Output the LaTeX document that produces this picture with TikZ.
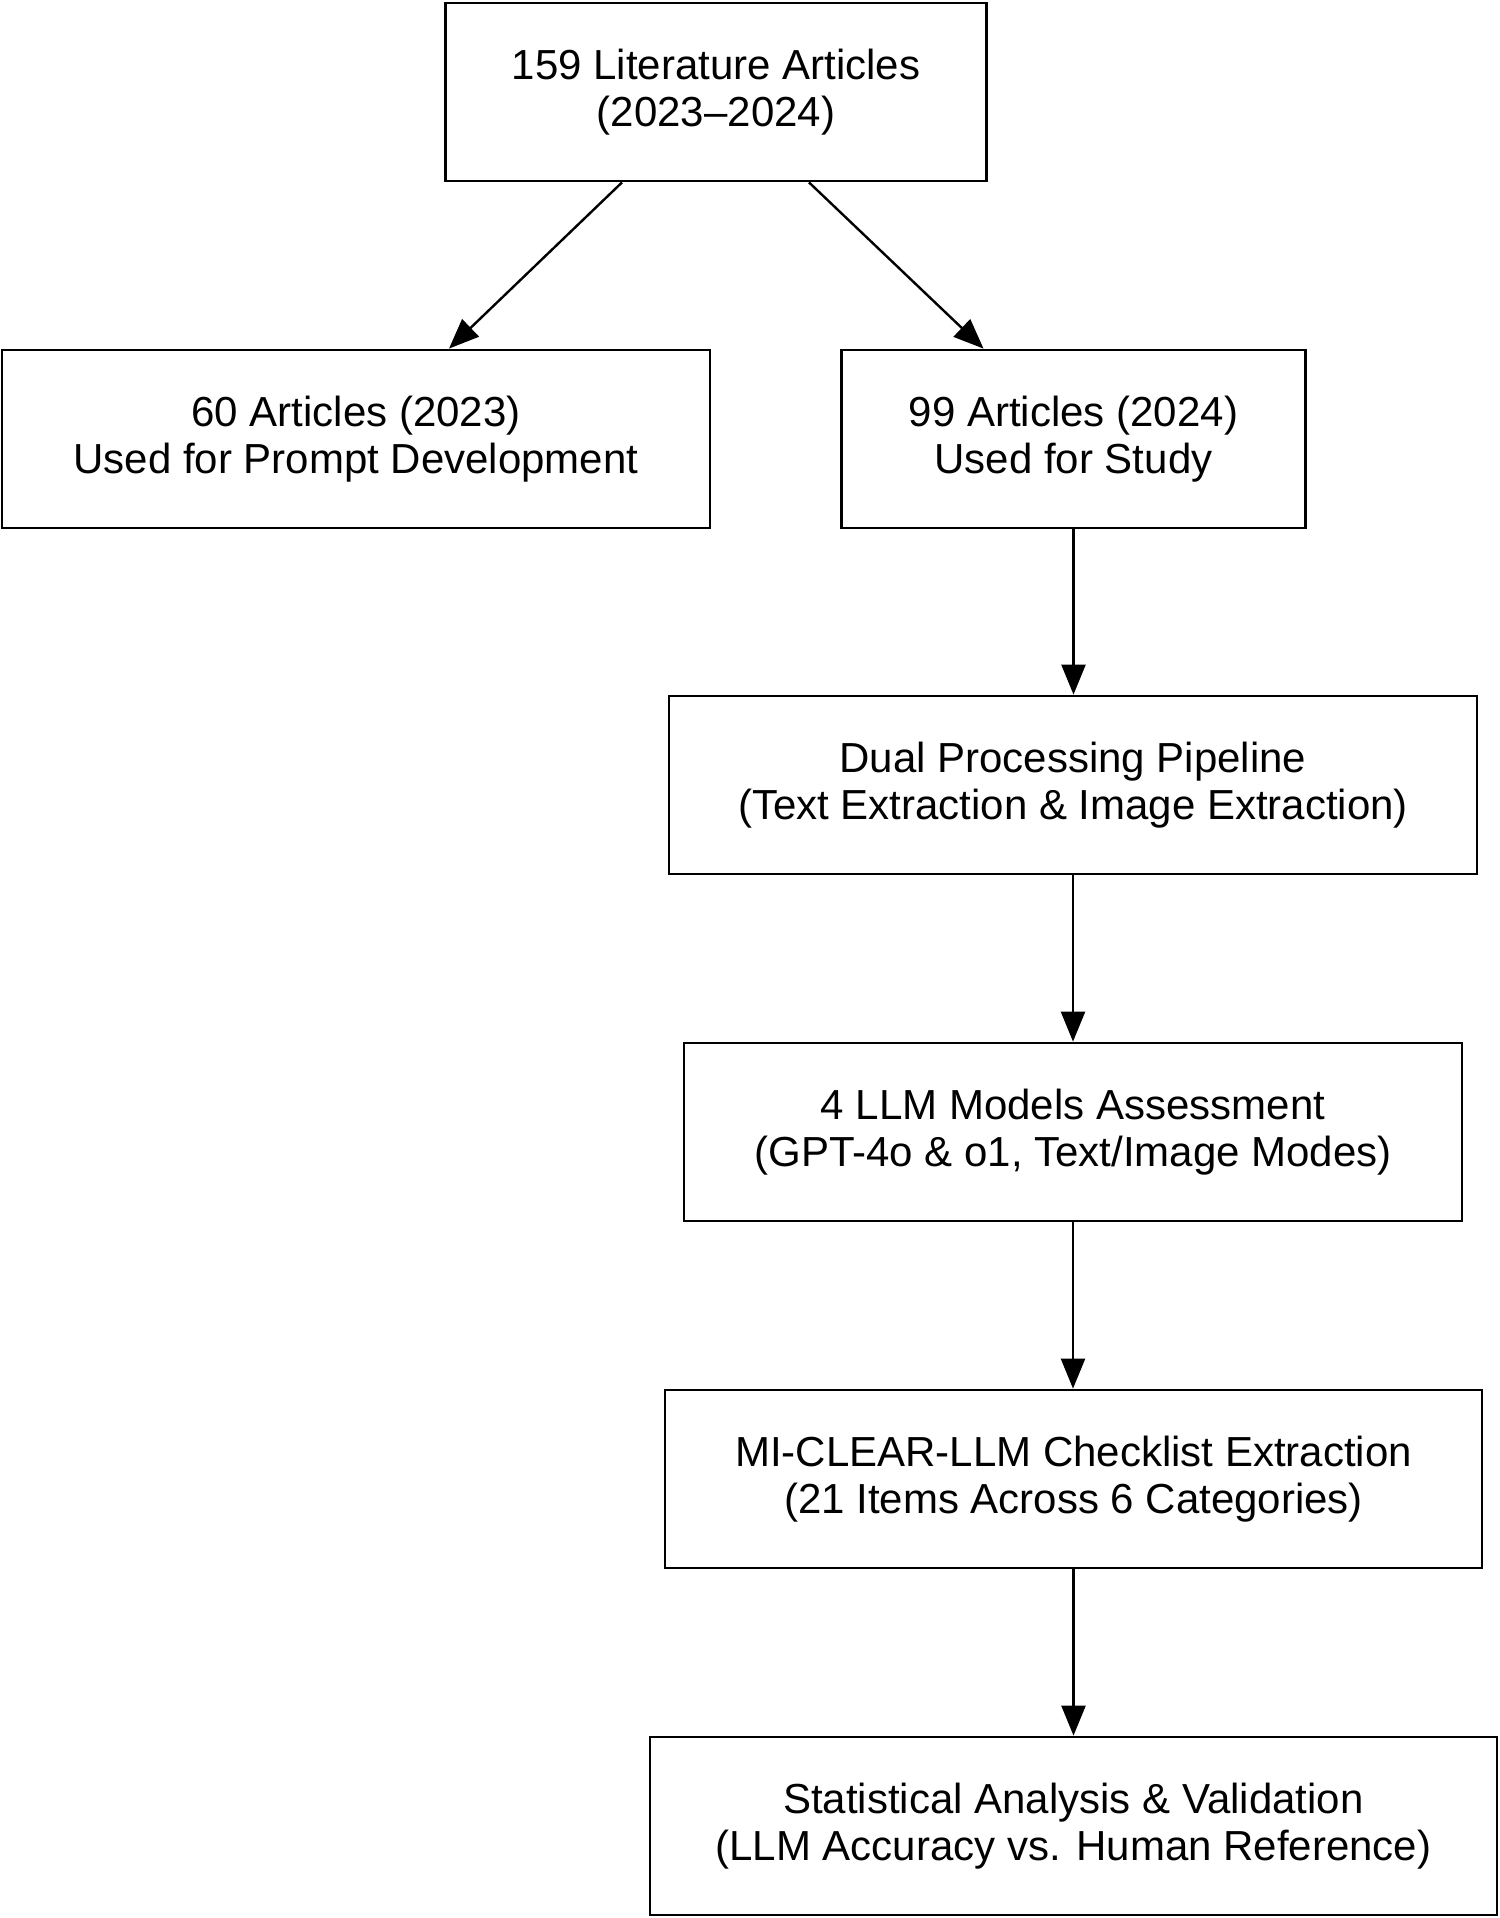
\documentclass[tikz,border=0pt]{standalone}
\usepackage{fontspec}
\setmainfont{Liberation Sans}
\usetikzlibrary{arrows.meta}
\begin{document}
\begin{tikzpicture}[
  box/.style={draw=black, line width=1.4pt, rectangle, inner sep=0pt,
    minimum height=89pt, align=center,
    font=\fontsize{21}{23.5}\selectfont},
  arr/.style={line width=1.2pt, -{Triangle[length=15pt,width=12pt]}}
]
\useasboundingbox (0pt,0pt) rectangle (750pt,-959pt);
\node[box, minimum width=270.5pt] (top)   at (358pt,-46pt)      {159 Literature Articles\\(2023–2024)};
\node[box, minimum width=354pt]   (left)  at (178pt,-219.5pt)   {60 Articles (2023)\\Used for Prompt Development};
\node[box, minimum width=232pt]   (right) at (536.75pt,-219.5pt){99 Articles (2024)\\Used for Study};
\node[box, minimum width=404pt]   (dual)  at (536.5pt,-392.5pt) {Dual Processing Pipeline\\(Text Extraction \& Image Extraction)};
\node[box, minimum width=389pt]   (llm)   at (536.5pt,-566pt)   {4 LLM Models Assessment\\(GPT-4o \& o1, Text/Image Modes)};
\node[box, minimum width=408.5pt] (mi)    at (536.75pt,-739.5pt){MI-CLEAR-LLM Checklist Extraction\\(21 Items Across 6 Categories)};
\node[box, minimum width=423.5pt] (stat)  at (536.75pt,-913pt)  {Statistical Analysis \& Validation\\(LLM Accuracy vs. Human Reference)};
\draw[arr] ([xshift=-47pt]top.south) -- ([xshift=46.5pt]left.north);
\draw[arr] ([xshift=46.5pt]top.south) -- ([xshift=-45pt]right.north);
\draw[arr] (right.south) -- (right.south |- dual.north);
\draw[arr] (dual.south) -- (dual.south |- llm.north);
\draw[arr] (llm.south) -- (llm.south |- mi.north);
\draw[arr] (mi.south) -- (mi.south |- stat.north);
\end{tikzpicture}
\end{document}
